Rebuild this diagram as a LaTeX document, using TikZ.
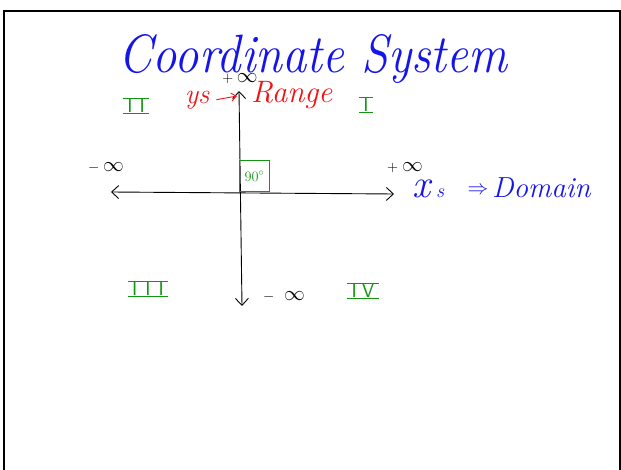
\documentclass[tikz,border=0pt]{standalone}
\usetikzlibrary{arrows.meta}
\definecolor{penblue}{RGB}{20,20,235}
\definecolor{penred}{RGB}{240,20,20}
\definecolor{pengreen}{RGB}{20,150,20}
\newcommand{\sgn}[1]{{\fontsize{15}{17}\selectfont$#1$}}
\tikzset{
  axis/.style={line width=0.9pt, {Straight Barb[length=7pt,width=13pt]}-{Straight Barb[length=7pt,width=13pt]}},
  quad/.style={text=pengreen, font=\fontsize{20}{22}\selectfont\sffamily, inner xsep=4pt, inner ysep=0.5pt,
    append after command={(\tikzlastnode.north west) edge[draw=pengreen, line width=0.7pt] (\tikzlastnode.north east)
                          (\tikzlastnode.south west) edge[draw=pengreen, line width=0.7pt] (\tikzlastnode.south east)}},
  inflabel/.style={font=\fontsize{20}{22}\selectfont, inner sep=0pt},
  frameline/.style={line width=2pt, black},
}
\begin{document}
\begin{tikzpicture}[x=1pt,y=-1pt]
\useasboundingbox (0,0) rectangle (621,470);
% frame (left, top, right)
\coordinate (fbl) at (4,470);
\coordinate (ftl) at (4,11);
\coordinate (ftr) at (620,11);
\coordinate (fbr) at (620,470);
\draw[frameline] (fbl) -- (ftl) -- (ftr) -- (fbr);

% title
\node[text=penblue, font=\fontsize{54}{58}\selectfont\itshape, inner sep=0pt, xscale=0.9, anchor=base] (title) at (313,73) {Coordinate System};

% axes
\coordinate (xl) at (111,192);
\coordinate (xr) at (394,194);
\coordinate (yt) at (239,91);
\coordinate (yb) at (242,306);
\draw[axis] (xl) -- (xr);
\draw[axis] (yt) -- (yb);

% right angle box
\node[draw=pengreen, line width=0.6pt, minimum width=30pt, minimum height=31pt, inner sep=0pt, anchor=south west, text=pengreen, font=\fontsize{14}{16}\selectfont] (rt) at (239,192) {$90^\circ$};

% infinity labels
\node[inflabel] (ptop) at (240,79) {\sgn{+}\,$\infty$};
\node[inflabel] (mleft) at (106,168) {\sgn{-}\hspace{4pt}$\infty$};
\node[inflabel] (pright) at (405,168) {\sgn{+}\hspace{4pt}$\infty$};
\node[inflabel] (mbot) at (284,297) {\sgn{-}\hspace{10pt}$\infty$};

% y label
\node[text=penred, font=\fontsize{28}{30}\selectfont\itshape, inner sep=0pt, anchor=base] (ys) at (197,104) {ys};
\node[text=penred, font=\fontsize{31}{33}\selectfont\itshape, inner sep=0pt, anchor=base west] (range) at (251,103) {Range};
\coordinate (rae) at (237,96);
\draw[penred, line width=0.9pt, -{Straight Barb[length=5pt,width=8pt]}] ([xshift=7pt,yshift=1pt]ys.east) -- (rae);

% x label
\node[text=penblue, font=\itshape, inner sep=0pt, anchor=base west] (xs) at (412,198)
  {{\fontsize{40}{42}\selectfont x}\hspace{6pt}{\fontsize{20}{22}\selectfont s}};
\node[text=penblue, font=\fontsize{20}{22}\selectfont, inner sep=0pt] (impl) at (478,191) {$\Rightarrow$};
\node[text=penblue, font=\fontsize{29}{31}\selectfont\itshape, inner sep=0pt, anchor=base west] (dom) at (492,198) {Domain};

% quadrants
\node[quad] (q2) at (136,106) {I\hspace{7pt}I};
\node[quad] (q1) at (366,105) {I};
\node[quad] (q3) at (148,289) {I\hspace{8pt}I\hspace{8pt}I};
\node[quad] (q4) at (363,291) {I\hspace{5pt}V};
\end{tikzpicture}
\end{document}
